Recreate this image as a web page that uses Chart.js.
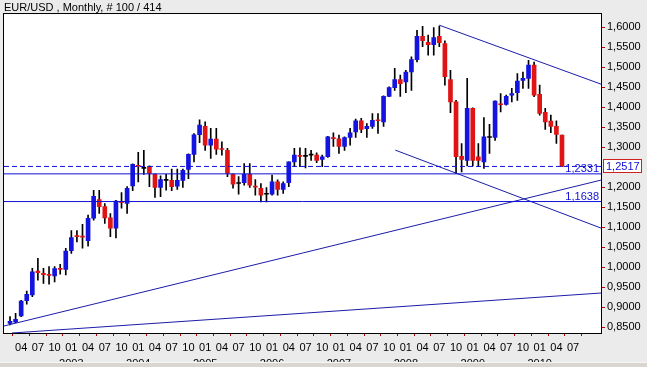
<!DOCTYPE html>
<html>
<head>
<meta charset="utf-8">
<title>EUR/USD Monthly</title>
<script src="https://cdn.jsdelivr.net/npm/chart.js@4.4.1/dist/chart.umd.min.js"></script>
<style>
  html, body { margin: 0; padding: 0; background: #ebebeb; }
  #wrap { width: 647px; height: 367px; }
</style>
</head>
<body>
<div id="wrap"><canvas id="fx" width="647" height="367"></canvas></div>
<script>
// monthly candles, Feb 2002 .. May 2010 (index 0..99)
const opens = [
  0.859, 0.862, 0.878, 0.916, 0.930, 0.990, 0.984, 0.981, 0.978, 0.996,
  0.994, 1.041, 1.078, 1.077, 1.066, 1.122, 1.169, 1.151, 1.123, 1.097,
  1.163, 1.159, 1.203, 1.254, 1.247, 1.252, 1.232, 1.199, 1.217, 1.217,
  1.202, 1.217, 1.244, 1.282, 1.331, 1.352, 1.305, 1.320, 1.296, 1.292,
  1.232, 1.209, 1.211, 1.232, 1.202, 1.197, 1.182, 1.182, 1.213, 1.194,
  1.211, 1.263, 1.279, 1.277, 1.280, 1.280, 1.269, 1.276, 1.324, 1.321,
  1.302, 1.324, 1.338, 1.366, 1.346, 1.352, 1.368, 1.363, 1.427, 1.449,
  1.469, 1.463, 1.488, 1.519, 1.577, 1.562, 1.556, 1.577, 1.559, 1.469,
  1.413, 1.277, 1.267, 1.397, 1.276, 1.263, 1.324, 1.324, 1.408, 1.407,
  1.430, 1.436, 1.467, 1.472, 1.505, 1.432, 1.387, 1.365, 1.352, 1.330
];
const highs = [
  0.876, 0.884, 0.917, 0.940, 0.997, 1.022, 0.997, 1.001, 1.001, 1.007,
  1.047, 1.091, 1.091, 1.107, 1.130, 1.192, 1.192, 1.159, 1.134, 1.167,
  1.186, 1.201, 1.258, 1.287, 1.292, 1.253, 1.233, 1.228, 1.232, 1.245,
  1.245, 1.245, 1.283, 1.334, 1.368, 1.363, 1.347, 1.347, 1.313, 1.297,
  1.233, 1.226, 1.259, 1.259, 1.219, 1.209, 1.199, 1.230, 1.218, 1.213,
  1.263, 1.297, 1.298, 1.297, 1.292, 1.286, 1.280, 1.327, 1.336, 1.330,
  1.326, 1.347, 1.370, 1.372, 1.359, 1.384, 1.384, 1.428, 1.451, 1.497,
  1.480, 1.492, 1.526, 1.592, 1.602, 1.580, 1.599, 1.603, 1.566, 1.492,
  1.417, 1.309, 1.472, 1.398, 1.309, 1.374, 1.357, 1.416, 1.434, 1.430,
  1.447, 1.484, 1.488, 1.517, 1.513, 1.455, 1.397, 1.380, 1.366, 1.330
];
const lows = [
  0.855, 0.861, 0.876, 0.907, 0.926, 0.967, 0.959, 0.957, 0.963, 0.982,
  0.980, 1.034, 1.063, 1.047, 1.052, 1.117, 1.134, 1.109, 1.076, 1.073,
  1.147, 1.134, 1.191, 1.213, 1.232, 1.201, 1.174, 1.176, 1.192, 1.191,
  1.194, 1.199, 1.221, 1.263, 1.311, 1.292, 1.272, 1.282, 1.280, 1.226,
  1.197, 1.182, 1.205, 1.199, 1.180, 1.163, 1.163, 1.180, 1.180, 1.184,
  1.201, 1.251, 1.251, 1.248, 1.267, 1.261, 1.251, 1.274, 1.302, 1.284,
  1.292, 1.305, 1.324, 1.336, 1.324, 1.347, 1.334, 1.352, 1.426, 1.442,
  1.427, 1.436, 1.442, 1.513, 1.551, 1.530, 1.530, 1.551, 1.455, 1.386,
  1.234, 1.238, 1.253, 1.253, 1.251, 1.247, 1.284, 1.317, 1.388, 1.405,
  1.413, 1.417, 1.447, 1.447, 1.426, 1.380, 1.344, 1.336, 1.309, 1.2508
];
const closes = [
  0.864, 0.869, 0.915, 0.932, 0.988, 0.986, 0.981, 0.979, 0.996, 0.994,
  1.040, 1.074, 1.076, 1.075, 1.122, 1.177, 1.151, 1.123, 1.097, 1.165,
  1.161, 1.197, 1.257, 1.252, 1.247, 1.234, 1.199, 1.219, 1.217, 1.201,
  1.217, 1.242, 1.282, 1.331, 1.355, 1.305, 1.320, 1.295, 1.294, 1.234,
  1.207, 1.209, 1.232, 1.205, 1.200, 1.180, 1.182, 1.213, 1.194, 1.209,
  1.263, 1.280, 1.277, 1.277, 1.280, 1.267, 1.276, 1.326, 1.321, 1.302,
  1.324, 1.336, 1.366, 1.344, 1.352, 1.367, 1.366, 1.427, 1.449, 1.469,
  1.459, 1.488, 1.519, 1.577, 1.566, 1.556, 1.574, 1.561, 1.476, 1.413,
  1.276, 1.269, 1.397, 1.267, 1.267, 1.326, 1.324, 1.415, 1.406, 1.427,
  1.434, 1.465, 1.472, 1.505, 1.430, 1.384, 1.363, 1.352, 1.332, 1.2517
];

// x axis: month ticks every quarter, year under january
const xTickIdx = [2, 5, 8, 11, 14, 17, 20, 23, 26, 29, 32, 35, 38, 41, 44, 47, 50,
  53, 56, 59, 62, 65, 68, 71, 74, 77, 80, 83, 86, 89, 92, 95, 98, 101];
const xTickText = ["04", "07", "10", "01", "04", "07", "10", "01", "04", "07", "10", "01",
  "04", "07", "10", "01", "04", "07", "10", "01", "04", "07", "10", "01", "04", "07", "10",
  "01", "04", "07", "10", "01", "04", "07"];
const yearIdx = [11, 23, 35, 47, 59, 71, 83, 95];
const yearText = ["2003", "2004", "2005", "2006", "2007", "2008", "2009", "2010"];

const yTicks = [0.85, 0.9, 0.95, 1.0, 1.05, 1.1, 1.15, 1.2, 1.3, 1.35, 1.4, 1.45, 1.5, 1.55, 1.6];

const lastPrice = 1.2517;
const levelValues = [1.2331, 1.1638];
const levelText = ["1,2331", "1,1638"];

// drawn trend lines (month index, price)
const trendTop = [{ x: 77, y: 1.605 }, { x: 106, y: 1.4575 }];
const trendMid = [{ x: 69.1, y: 1.2925 }, { x: 106, y: 1.0975 }];
const trendRise = [{ x: -1.08, y: 0.8525 }, { x: 106, y: 1.2175 }];
const trendLow = [{ x: 0.36, y: 0.835 }, { x: 106, y: 0.935 }];

const X_MIN = -1.08, X_MAX = 106;
const BLUE = "#1414e0";
const RED = "#e01414";
const LINE = "#1c1ca8";
const LEVEL = "#1010d8";

Chart.defaults.font.family = "Arial, 'Liberation Sans', sans-serif";
Chart.defaults.font.size = 11;
Chart.defaults.color = "#000";

const bodies = opens.map((o, i) => ({ x: i, y: [Math.min(o, closes[i]), Math.max(o, closes[i])] }));
const bodyColors = opens.map((o, i) => closes[i] > o ? BLUE : closes[i] < o ? RED : "#000");
const wicks = lows.map((l, i) => ({ x: i, y: [l, highs[i]] }));

function flat(v) {
  return [{ x: X_MIN, y: v }, { x: X_MAX, y: v }];
}

function lineSet(data, color, dash) {
  return {
    type: "line", data, borderColor: color, borderWidth: 1,
    borderDash: dash || [], pointRadius: 0, order: -1, tension: 0,
  };
}

const frame = {
  id: "frame",
  beforeDraw(chart) {
    const { ctx, chartArea: a } = chart;
    ctx.save();
    ctx.fillStyle = "#fff";
    ctx.fillRect(a.left, a.top, a.right - a.left, a.bottom - a.top);
    ctx.restore();
  },
  afterDraw(chart) {
    const { ctx, chartArea: a, scales } = chart;
    const y = scales.y;
    ctx.save();
    ctx.strokeStyle = "#000";
    ctx.lineWidth = 1;
    ctx.strokeRect(Math.round(a.left) - 0.5, Math.round(a.top) - 0.5,
      Math.round(a.right - a.left) + 1, Math.round(a.bottom - a.top) + 1);

    ctx.font = "11px Arial, 'Liberation Sans', sans-serif";
    ctx.fillStyle = LEVEL;
    ctx.textAlign = "right";
    ctx.textBaseline = "alphabetic";
    levelValues.forEach((v, k) => {
      ctx.fillText(levelText[k], a.right - 2, y.getPixelForValue(v) - 2);
    });

    // current price box
    const py = Math.round(y.getPixelForValue(lastPrice));
    ctx.fillStyle = "#fff";
    ctx.fillRect(a.right + 3, py - 7, 38, 14);
    ctx.strokeStyle = "#d02020";
    ctx.strokeRect(a.right + 2.5, py - 6.5, 38, 13);
    ctx.fillStyle = LEVEL;
    ctx.textAlign = "left";
    ctx.textBaseline = "middle";
    ctx.fillText(lastPrice.toFixed(4).replace(".", ","), a.right + 5, py + 0.5);

    // status strip at the bottom of the window
    ctx.fillStyle = "#d9d6d0";
    ctx.fillRect(0, 362, chart.width, chart.height - 362);
    ctx.fillStyle = "#f6f6f6";
    ctx.fillRect(0, 362, chart.width, 1);
    ctx.restore();
  },
};

new Chart(document.getElementById("fx"), {
  type: "bar",
  data: {
    datasets: [
      {
        label: "body", data: bodies, backgroundColor: bodyColors,
        barThickness: 4, grouped: false, minBarLength: 1, order: 0,
      },
      {
        label: "wick", data: wicks, backgroundColor: "#000",
        barThickness: 1, grouped: false, order: 1,
      },
      lineSet(flat(levelValues[0]), LEVEL),
      lineSet(flat(levelValues[1]), LEVEL),
      lineSet(flat(lastPrice), LEVEL, [5, 3]),
      lineSet(trendTop, LINE),
      lineSet(trendMid, LINE),
      lineSet(trendRise, LINE),
      lineSet(trendLow, LINE),
    ],
  },
  options: {
    responsive: false,
    animation: false,
    events: [],
    layout: { padding: { left: 4, top: 0, right: 0, bottom: 0 } },
    plugins: {
      legend: { display: false },
      tooltip: { enabled: false },
      title: {
        display: true,
        text: "EUR/USD , Monthly, # 100 / 414",
        align: "start",
        color: "#000",
        font: { size: 11, weight: "normal" },
        padding: { top: 1, bottom: 0 },
      },
    },
    scales: {
      x: {
        type: "linear",
        min: X_MIN,
        max: X_MAX,
        offset: false,
        grid: { drawOnChartArea: false, tickLength: 3, tickColor: "#b00000" },
        border: { color: "#000" },
        ticks: {
          autoSkip: false,
          maxRotation: 0,
          padding: 4,
          font: { size: 11, lineHeight: 1.45 },
          callback: (v) => {
            const k = xTickIdx.indexOf(v);
            const yi = yearIdx.indexOf(v);
            return yi >= 0 ? [xTickText[k], yearText[yi]] : xTickText[k];
          },
        },
        afterBuildTicks: (s) => { s.ticks = xTickIdx.map((v) => ({ value: v })); },
        afterFit: (s) => { s.height = 34; },
      },
      y: {
        type: "linear",
        position: "right",
        min: 0.835,
        max: 1.6325,
        grid: { drawOnChartArea: false, tickLength: 4, tickColor: "#c00000" },
        border: { color: "#000" },
        ticks: {
          padding: 2,
          callback: (v) => v.toFixed(4).replace(".", ","),
        },
        afterBuildTicks: (s) => { s.ticks = yTicks.map((v) => ({ value: v })); },
        afterFit: (s) => { s.width = 46; },
      },
    },
  },
  plugins: [frame],
});
</script>
</body>
</html>
